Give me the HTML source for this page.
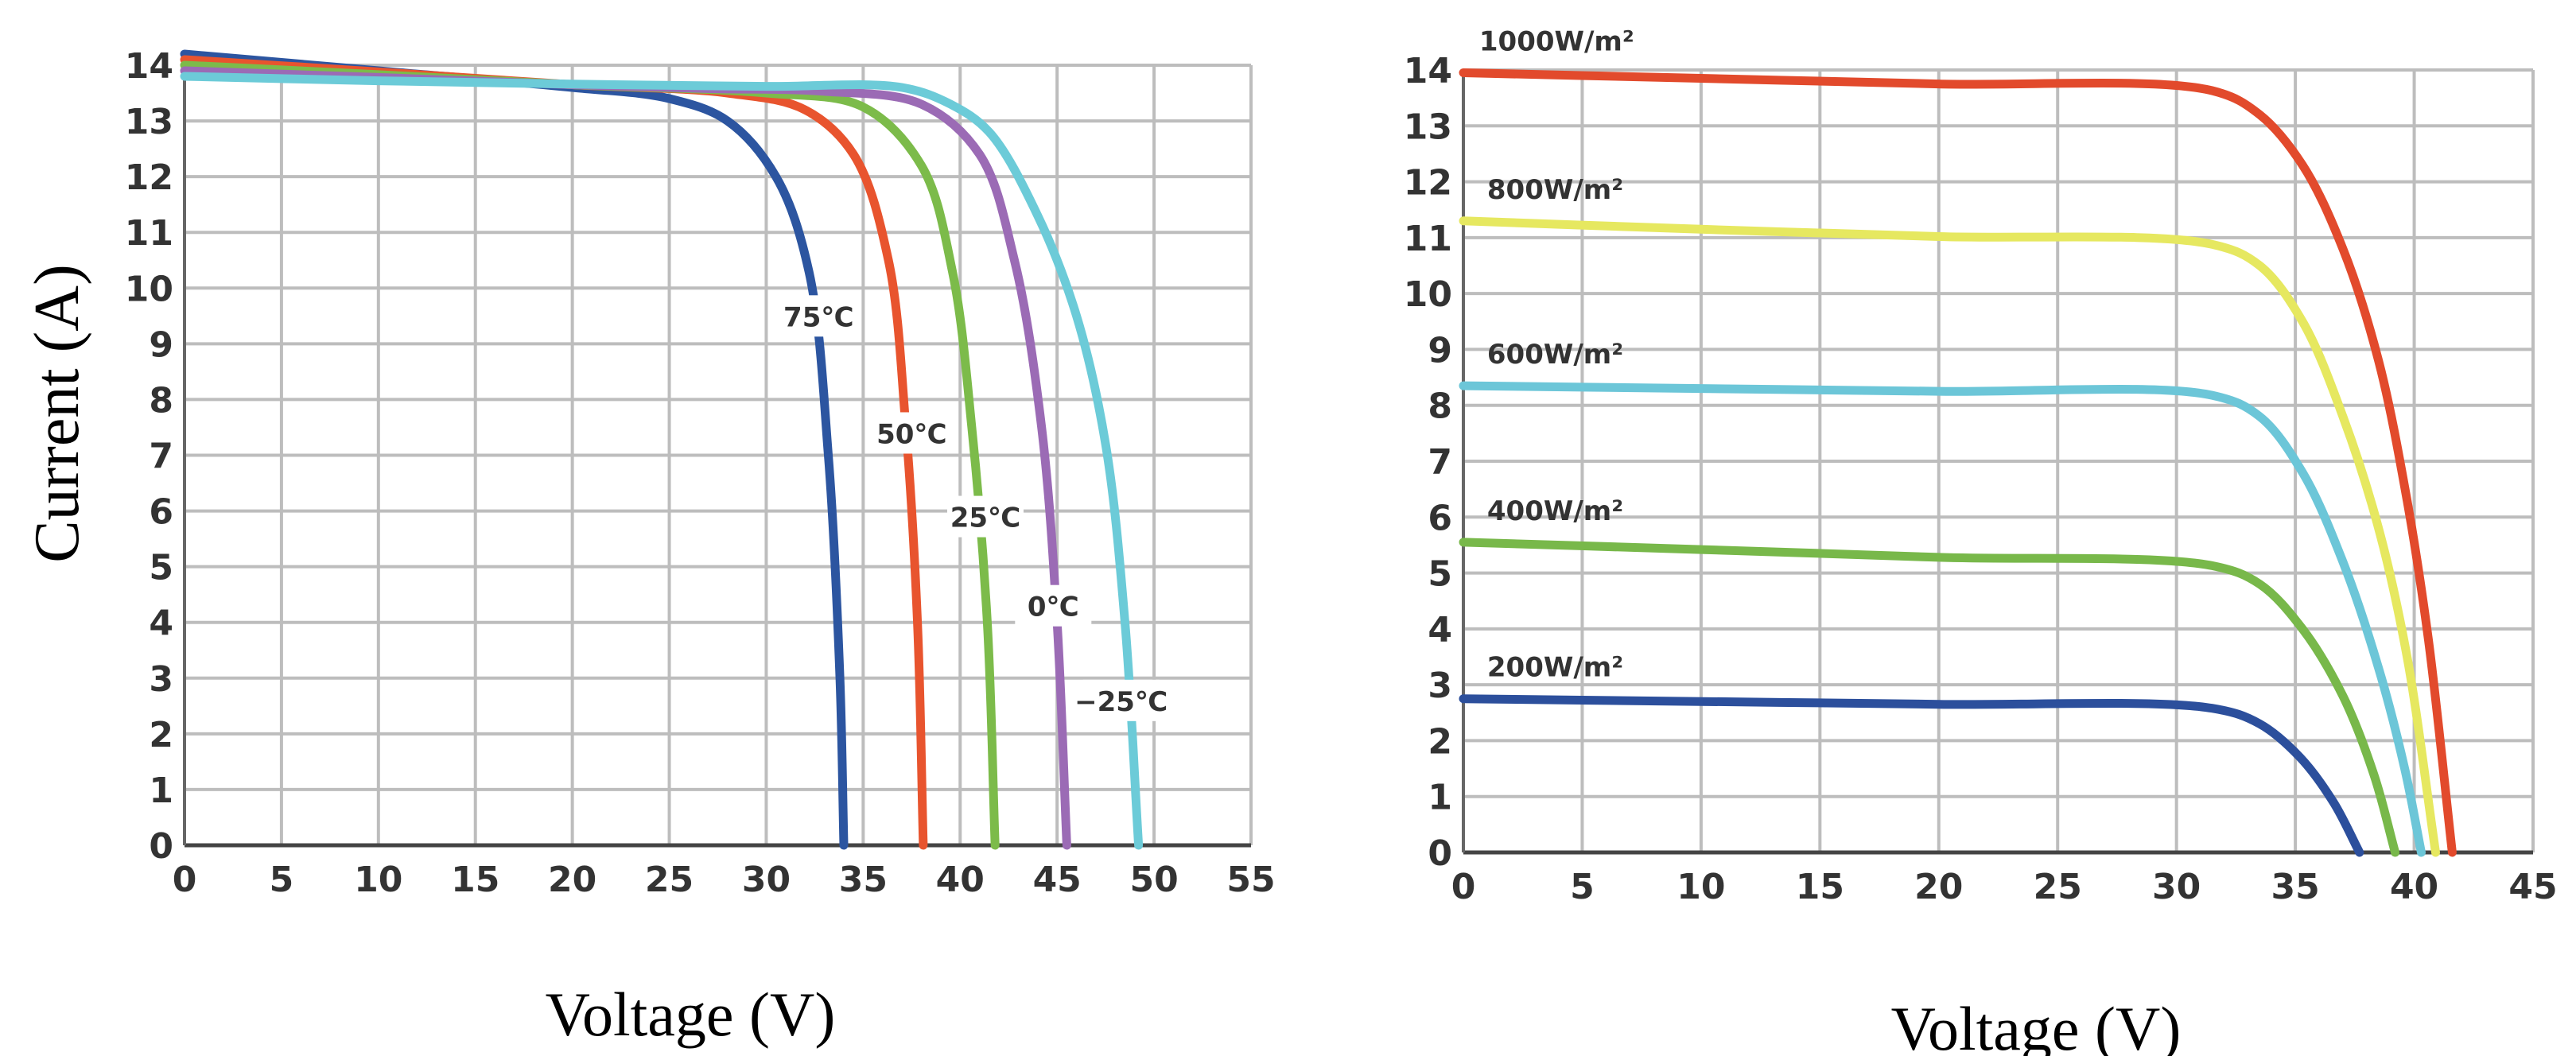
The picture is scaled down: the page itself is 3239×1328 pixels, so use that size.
<!DOCTYPE html>
<html><head><meta charset="utf-8"><style>
html,body{margin:0;padding:0;background:#fff;}
svg{display:block;}
</style></head><body>
<svg id="chart" width="3239" height="1328" viewBox="0 0 3239 1328" xmlns="http://www.w3.org/2000/svg"></svg>
<script>
// ---- Left chart data (temperature) ----
const leftSeriesNames = ["75℃","50℃","25℃","0℃","−25℃"];
const leftColors = ["#2c55a0","#e8542e","#7cbb4a","#9b6bb5","#6ccbd8"];
const leftV = [
 [0,10,20,25,28,30.5,32.2,33.2,33.8,34],
 [0,10,20,28,32,34.5,36.3,37.2,37.8,38.1],
 [0,10,20,30,35,38,39.6,40.6,41.4,41.8],
 [0,10,20,27,33,38,41,42.8,44.2,45,45.5],
 [0,10,20,30,37,39.5,41.5,44,46,47.5,48.5,49.2]
];
const leftI = [
 [14.2,13.9,13.6,13.4,13.0,12.0,10.3,7,3,0],
 [14.1,13.88,13.65,13.5,13.2,12.4,10.5,7.5,4,0],
 [14.0,13.83,13.65,13.5,13.25,12.2,10.3,7.5,4,0],
 [13.9,13.78,13.65,13.58,13.53,13.3,12.4,10.5,7.5,4,0],
 [13.8,13.72,13.66,13.62,13.6,13.3,12.8,11.3,9.5,7.2,4,0]
];
const leftLabelV = [32.7,37.5,41.3,44.8,48.3];
const leftLabelI = [9.5,7.4,5.9,4.3,2.6];
const leftXTicks = [0,5,10,15,20,25,30,35,40,45,50,55];
const leftYTicks = [0,1,2,3,4,5,6,7,8,9,10,11,12,13,14];

// ---- Right chart data (irradiance) ----
const rightSeriesNames = ["1000W/m²","800W/m²","600W/m²","400W/m²","200W/m²"];
const rightColors = ["#e24a2c","#e6e860","#6cc6d8","#78b84a","#2c4f9c"];
const rightV = [
 [0,10,20,31.5,33.5,35.3,37,38.5,39.7,40.6,41.6],
 [0,10,20,31.5,33.5,35.3,37,38.5,39.7,40.9],
 [0,10,20,31.5,33.5,35.3,37,38.5,39.6,40.3],
 [0,10,20,31.5,33.5,35.3,37,38.3,39.2],
 [0,10,20,31.5,33.5,35.2,36.6,37.7]
];
const rightI = [
 [13.95,13.85,13.75,13.63,13.2,12.3,10.8,8.8,6.3,3.8,0],
 [11.3,11.15,11.02,10.88,10.5,9.5,7.8,5.8,3.5,0],
 [8.35,8.3,8.25,8.18,7.8,6.8,5.2,3.3,1.5,0],
 [5.55,5.42,5.28,5.13,4.8,4.0,2.8,1.4,0],
 [2.75,2.7,2.65,2.58,2.3,1.7,0.9,0]
];
const rightXTicks = [0,5,10,15,20,25,30,35,40,45];
const rightYTicks = [0,1,2,3,4,5,6,7,8,9,10,11,12,13,14];

const NS="http://www.w3.org/2000/svg";
const svg=document.getElementById('chart');
function mk(tag,attrs,parent){const e=document.createElementNS(NS,tag);for(const k in attrs)e.setAttribute(k,attrs[k]);(parent||svg).appendChild(e);return e;}
function dist(a,b){return Math.sqrt(Math.hypot(a[0]-b[0],a[1]-b[1]));}
function smooth(pts){
 let d="M"+pts[0][0].toFixed(1)+","+pts[0][1].toFixed(1);
 for(let i=0;i<pts.length-1;i++){
  const p1=pts[i],p2=pts[i+1];
  const p0=pts[i-1]||[2*p1[0]-p2[0],2*p1[1]-p2[1]];
  const p3=pts[i+2]||[2*p2[0]-p1[0],2*p2[1]-p1[1]];
  const d1=dist(p0,p1),d2=dist(p1,p2),d3=dist(p2,p3);
  const c1=[0,1].map(j=>(d1*d1*p2[j]-d2*d2*p0[j]+(2*d1*d1+3*d1*d2+d2*d2)*p1[j])/(3*d1*(d1+d2)));
  const c2=[0,1].map(j=>(d3*d3*p1[j]-d2*d2*p3[j]+(2*d3*d3+3*d3*d2+d2*d2)*p2[j])/(3*d3*(d3+d2)));
  d+=" C"+c1.map(v=>v.toFixed(1))+" "+c2.map(v=>v.toFixed(1))+" "+p2.map(v=>v.toFixed(1));
 }
 return d;
}
function drawChart(cfg){
 const {x0,x1,y0,y1,xmax,ymax,xTicks,yTicks,prefix}=cfg;
 const sx=v=>x0+(x1-x0)*v/xmax, sy=v=>y0-(y0-y1)*v/ymax;
 const g=mk('g',{});
 
 
 xTicks.forEach(t=>{
  const l=mk('line',{x1:sx(t),x2:sx(t),y1:sy(ymax),y2:y0,stroke:'#bdbdbd','stroke-width':4},g);
  
  
  const tx=mk('text',{x:sx(t),y:y0+58,'text-anchor':'middle','font-family':'DejaVu Sans, Liberation Sans, sans-serif','font-weight':'bold','font-size':44,fill:'#333'},g);
  tx.textContent=t;
  
  
 });
 yTicks.forEach(t=>{
  const l=mk('line',{x1:x0,x2:x1,y1:sy(t),y2:sy(t),stroke:'#bdbdbd','stroke-width':4},g);
  
  
  const tx=mk('text',{x:x0-14,y:sy(t)+16,'text-anchor':'end','font-family':'DejaVu Sans, Liberation Sans, sans-serif','font-weight':'bold','font-size':44,fill:'#333'},g);
  tx.textContent=t;
  
  
 });
 const ax=mk('line',{x1:x0,x2:x1,y1:y0,y2:y0,stroke:'#444','stroke-width':5},g);
 
 
 const ay=mk('line',{x1:x0,x2:x0,y1:sy(ymax),y2:y0,stroke:'#666','stroke-width':4},g);
 
 
 return {sx,sy,g};
}
// Left
const L=drawChart({x0:232,x1:1573,y0:1063,y1:82,xmax:55,ymax:14,xTicks:leftXTicks,yTicks:leftYTicks,prefix:'temperature'});
leftV.forEach((vs,k)=>{
 const pts=vs.map((v,i)=>[L.sx(v),L.sy(leftI[k][i])]);
 const p=mk('path',{d:smooth(pts),fill:'none',stroke:leftColors[k],'stroke-width':11,'stroke-linecap':'round'},L.g);
 
 
});
leftV.forEach((vs,k)=>{
 const cx=L.sx(leftLabelV[k]),cy=L.sy(leftLabelI[k]);
 const r=mk('rect',{x:cx-48,y:cy-26,width:96,height:52,fill:'#fff'},L.g);
 
 
 const t=mk('text',{x:cx,y:cy+13,'text-anchor':'middle','font-family':'DejaVu Sans, Noto Sans CJK SC, sans-serif','font-weight':'bold','font-size':34,fill:'#333'},L.g);
 t.textContent=leftSeriesNames[k];
 
 
});
// Right
const R=drawChart({x0:1840,x1:3185,y0:1072,y1:88,xmax:45,ymax:14,xTicks:rightXTicks,yTicks:rightYTicks,prefix:'irradiance'});
rightV.forEach((vs,k)=>{
 const pts=vs.map((v,i)=>[R.sx(v),R.sy(rightI[k][i])]);
 const p=mk('path',{d:smooth(pts),fill:'none',stroke:rightColors[k],'stroke-width':11,'stroke-linecap':'round'},R.g);
 
 
 const t=mk('text',{x:R.sx(1)+(k==0?-10:0),y:R.sy(rightI[k][0])-28,'font-family':'DejaVu Sans, sans-serif','font-weight':'bold','font-size':34,fill:'#333'},R.g);
 t.textContent=rightSeriesNames[k];
 
 
});
// Axis titles
let t=mk('text',{x:0,y:0,transform:'translate(98,520) rotate(-90)','text-anchor':'middle','font-family':'Liberation Serif, serif','font-size':80,fill:'#000'});
t.textContent='Current (A)';


t=mk('text',{x:868,y:1302,'text-anchor':'middle','font-family':'Liberation Serif, serif','font-size':78,fill:'#000'});
t.textContent='Voltage (V)';


t=mk('text',{x:2560,y:1320,'text-anchor':'middle','font-family':'Liberation Serif, serif','font-size':78,fill:'#000'});
t.textContent='Voltage (V)';


</script>
</body></html>
